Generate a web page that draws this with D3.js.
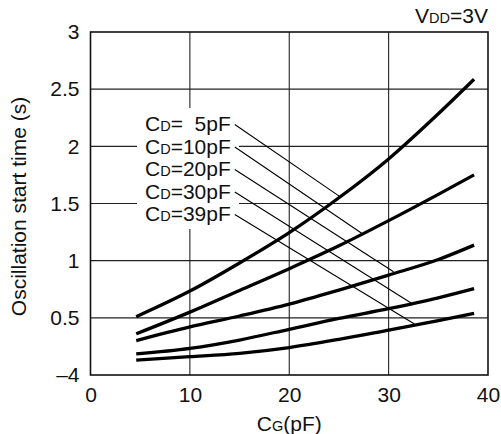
<!DOCTYPE html>
<html><head><meta charset="utf-8">
<script src="https://cdn.jsdelivr.net/npm/d3@7"></script>
<style>html,body{margin:0;padding:0;background:#fff;} svg{display:block;font-family:"Liberation Sans",Arial,sans-serif;}</style>
</head><body>
<svg id="chart" width="501" height="434"></svg>
<script>
// ---- data ----
const cgValues = [4.6, 10, 15, 20, 25, 30, 35, 38.6];
const cd5  = [0.51, 0.734, 0.98, 1.245, 1.55, 1.89, 2.285, 2.587];
const cd10 = [0.36, 0.55, 0.74, 0.93, 1.13, 1.35, 1.58, 1.75];
const cd20 = [0.30, 0.42, 0.516, 0.62, 0.743, 0.874, 1.01, 1.136];
const cd30 = [0.184, 0.233, 0.306, 0.40, 0.495, 0.58, 0.675, 0.755];
const cd39 = [0.131, 0.16, 0.19, 0.24, 0.312, 0.393, 0.475, 0.539];
const seriesNames = ["5pF", "10pF", "20pF", "30pF", "39pF"];
const seriesLabelsEq = ["=  5pF", "=10pF", "=20pF", "=30pF", "=39pF"];
const leaderX = [25.1, 27.4, 30.5, 32.3, 32.6];
const leaderY = [1.56, 1.233, 0.903, 0.627, 0.446];
const xTicks = [0, 10, 20, 30, 40];
const xTickLabels = ["0", "10", "20", "30", "40"];
const yTicks = [0, 0.5, 1, 1.5, 2, 2.5, 3];
const yTickLabels = ["\u20134", "0.5", "1", "1.5", "2", "2.5", "3"];
const series = [cd5, cd10, cd20, cd30, cd39];

// ---- layout ----
const svg = d3.select("#chart");
const L = 90.5, R = 488, T = 32, B = 375;
const x = d3.scaleLinear().domain([0, 40]).range([L, R]);
const y = d3.scaleLinear().domain([0, 3]).range([B, T]);
const FS = 21, FSs = 14.5;

svg.append("rect").attr("width", 501).attr("height", 434).attr("fill", "#fff");

// grid
const grid = svg.append("g").attr("stroke", "#222").attr("stroke-width", 1.1);
grid.selectAll("line.v").data(xTicks.slice(1, -1)).join("line")
  .attr("x1", d => x(d)).attr("x2", d => x(d)).attr("y1", T).attr("y2", B);
grid.selectAll("line.h").data(yTicks.slice(1, -1)).join("line")
  .attr("x1", L).attr("x2", R).attr("y1", d => y(d)).attr("y2", d => y(d));

// white box behind labels (interrupts grid)
svg.append("rect").attr("x", 137).attr("y", 108).attr("width", 102).attr("height", 121).attr("fill", "#fff");

// frame
svg.append("rect").attr("x", L).attr("y", T).attr("width", R - L).attr("height", B - T)
  .attr("fill", "none").attr("stroke", "#111").attr("stroke-width", 1.6);

// axes tick labels
const yAxis = d3.axisLeft(y).tickValues(yTicks).tickSize(0).tickPadding(11)
  .tickFormat((d, i) => yTickLabels[i]);
const ya = svg.append("g").attr("transform", `translate(${L},0)`).call(yAxis);
ya.select(".domain").remove();
ya.selectAll("text").attr("font-size", FS).attr("font-family", "Liberation Sans, Arial, sans-serif").attr("fill", "#111");

const xAxis = d3.axisBottom(x).tickValues(xTicks).tickSize(0).tickPadding(12)
  .tickFormat((d, i) => xTickLabels[i]);
const xa = svg.append("g").attr("transform", `translate(0,${B})`).call(xAxis);
xa.select(".domain").remove();
xa.selectAll("text").attr("font-size", FS).attr("font-family", "Liberation Sans, Arial, sans-serif").attr("fill", "#111");

// axis titles
const xt = svg.append("text").attr("x", x(20)).attr("y", 431).attr("text-anchor", "middle")
  .attr("font-size", FS).attr("fill", "#111");
xt.append("tspan").text("C");
xt.append("tspan").attr("font-size", FSs).text("G");
xt.append("tspan").text("(pF)");

svg.append("text").attr("transform", `translate(26,${(T + B) / 2 + 3}) rotate(-90)`)
  .attr("text-anchor", "middle").attr("font-size", FS).attr("fill", "#111")
  .text("Oscillation start time (s)");

const vt = svg.append("text").attr("x", R).attr("y", 23).attr("text-anchor", "end")
  .attr("font-size", FS).attr("fill", "#111");
vt.append("tspan").text("V");
vt.append("tspan").attr("font-size", FSs).text("DD");
vt.append("tspan").text("=3V");

// curves
const line = d3.line().x((d, i) => x(cgValues[i])).y(d => y(d)).curve(d3.curveMonotoneX);
svg.append("g").selectAll("path").data(series).join("path")
  .attr("d", d => line(d)).attr("fill", "none").attr("stroke", "#000").attr("stroke-width", 3.3)
  .attr("stroke-linecap", "butt");

// labels + leaders
const baselines = [131, 153.5, 176, 198.5, 221];
seriesNames.forEach((n, i) => {
  const t = svg.append("text").attr("x", 145).attr("y", baselines[i]).attr("font-size", FS)
    .attr("fill", "#111").style("white-space", "pre");
  t.append("tspan").text("C");
  t.append("tspan").attr("font-size", FSs).text("D");
  t.append("tspan").text(seriesLabelsEq[i]);
  const bb = t.node().getBBox();
  svg.append("line").attr("x1", bb.x + bb.width + 4).attr("y1", baselines[i] - 6.5)
    .attr("x2", x(leaderX[i])).attr("y2", y(leaderY[i]))
    .attr("stroke", "#000").attr("stroke-width", 1.1);
});
</script>
</body></html>
